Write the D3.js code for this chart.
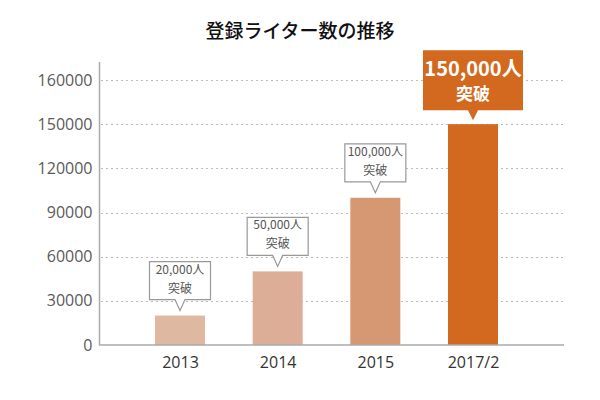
<!DOCTYPE html>
<html>
<head>
<meta charset="utf-8">
<script src="https://cdn.jsdelivr.net/npm/d3@7"></script>
<style>
  body { margin: 0; background: #fff; }
  svg { display: block; font-family: "Open Sans", "Noto Sans CJK JP", sans-serif; }
</style>
</head>
<body>
<svg id="chart" width="600" height="400"></svg>
<script>
// data
const categories = ['2013', '2014', '2015', '2017/2']
const writers = [20000, 50000, 100000, 150000]
const callouts = [['20,000人', '突破'], ['50,000人', '突破'], ['100,000人', '突破'], ['150,000人', '突破']]
const barColors = ['#dfb8a1', '#dcae98', '#d59873', '#d2691e']
const tickValues = [0, 30000, 60000, 90000, 120000, 150000, 180000]
const tickLabels = ['0', '30000', '60000', '90000', '120000', '150000', '160000']

const width = 600, height = 400
const svg = d3.select('#chart')

// scales
const y = d3.scaleLinear().domain([0, 180000]).range([345, 80])
const x = d3.scalePoint().domain(categories).range([180, 473])
const barWidth = 50

// title
svg.append('text')
  .attr('x', 300)
  .attr('y', 38)
  .attr('text-anchor', 'middle')
  .attr('font-family', '"Noto Sans CJK JP", sans-serif')
  .attr('font-size', '19px')
  .attr('font-weight', 500)
  .attr('fill', '#111')
  .text('登録ライター数の推移')

// dotted gridlines
svg.append('g')
  .selectAll('line')
  .data(tickValues.filter(d => d > 0))
  .enter().append('line')
  .attr('x1', 101)
  .attr('x2', 565)
  .attr('y1', d => Math.round(y(d)) + 0.5)
  .attr('y2', d => Math.round(y(d)) + 0.5)
  .attr('stroke', '#bbb')
  .attr('stroke-dasharray', '2,3')

// y axis
const yAxis = svg.append('g')
  .attr('transform', 'translate(99.5,0)')
  .call(d3.axisLeft(y)
    .tickValues(tickValues)
    .tickSize(0)
    .tickPadding(7)
    .tickFormat((d, i) => tickLabels[i]))
yAxis.select('.domain').remove()
yAxis.selectAll('text')
  .attr('font-size', '16px')
  .attr('fill', '#5a5a5a')
  .attr('font-family', '"Open Sans", sans-serif')
yAxis.append('line')
  .attr('y1', 62)
  .attr('y2', 345)
  .attr('stroke', '#aaa')
  .attr('stroke-width', 1.5)

// bars
svg.append('g')
  .selectAll('rect')
  .data(writers)
  .enter().append('rect')
  .attr('x', (d, i) => x(categories[i]) - barWidth / 2)
  .attr('y', d => y(d))
  .attr('width', barWidth)
  .attr('height', d => y(0) - y(d))
  .attr('fill', (d, i) => barColors[i])

// x axis
const xAxis = svg.append('g')
  .attr('transform', 'translate(0,345)')
  .call(d3.axisBottom(x).tickSize(0).tickPadding(12))
xAxis.select('.domain').remove()
xAxis.selectAll('text')
  .attr('font-size', '16px')
  .attr('fill', '#333')
  .attr('font-family', '"Open Sans", sans-serif')
xAxis.append('line')
  .attr('x1', 99)
  .attr('x2', 564)
  .attr('stroke', '#aaa')
  .attr('stroke-width', 1.5)

// callout bubbles
const last = writers.length - 1
const bubble = svg.append('g')
  .selectAll('g')
  .data(writers)
  .enter().append('g')
  .attr('transform', (d, i) => `translate(${x(categories[i])},${y(d)})`)

bubble.append('path')
  .attr('d', (d, i) => {
    const big = i === last
    const w = big ? 100 : 61
    const h = big ? 60 : 38
    const gap = big ? 14 : 16
    const tip = big ? 4 : 5
    const l = -w / 2, r = w / 2, b = -gap, t = -gap - h
    return `M${l},${t}H${r}V${b}H5L0,${-tip}L-5,${b}H${l}Z`
  })
  .attr('fill', (d, i) => i === last ? barColors[i] : '#fff')
  .attr('stroke', (d, i) => i === last ? 'none' : '#999')
  .attr('stroke-width', 1.2)

// two separate lines per bubble
bubble.each(function (d, i) {
  const big = i === last
  const g = d3.select(this)
  const lines = [
    { text: callouts[i][0], y: big ? -48 : -42, size: big ? 20 : 12 },
    { text: callouts[i][1], y: big ? -24 : -23, size: big ? 17 : 12 }
  ]
  g.selectAll('text')
    .data(lines)
    .enter().append('text')
    .attr('x', 0)
    .attr('y', l => l.y)
    .attr('text-anchor', 'middle')
    .attr('font-family', '"Noto Sans CJK JP", sans-serif')
    .attr('font-size', l => l.size + 'px')
    .attr('font-weight', big ? 'bold' : 'normal')
    .attr('fill', big ? '#fff' : '#555')
    .text(l => l.text)
})
</script>
</body>
</html>
